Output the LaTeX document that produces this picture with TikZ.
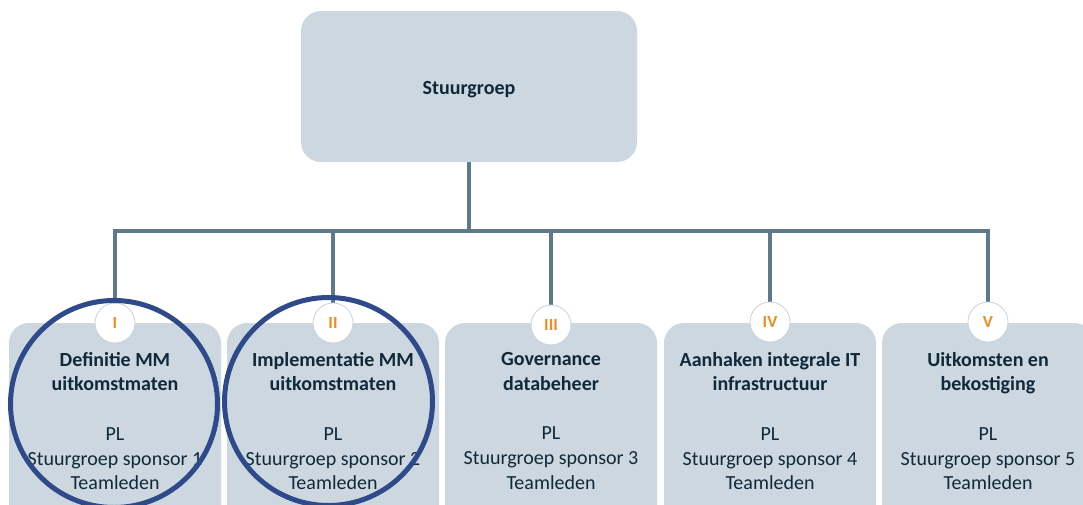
\documentclass[tikz,border=0pt]{standalone}
\usepackage{fontspec}
\setmainfont{Carlito}
\usetikzlibrary{backgrounds}
\definecolor{boxfill}{HTML}{CCD7DF}
\definecolor{connc}{HTML}{5D7A8C}
\definecolor{ringc}{HTML}{2E4A8B}
\definecolor{numorange}{HTML}{F28A1E}
\definecolor{numedge}{HTML}{C8D3DB}
\definecolor{txtc}{HTML}{10293A}
\tikzset{
  topbox/.style={fill=boxfill, rounded corners=20pt, minimum width=336pt, minimum height=151pt, inner sep=0pt},
  toptext/.style={inner sep=0pt, text=txtc, font=\fontsize{20}{24.7}\selectfont\bfseries},
  subbox/.style={fill=boxfill, rounded corners=20pt, minimum width=212pt, minimum height=210pt, inner sep=0pt},
  subtext/.style={align=center, text=txtc, inner sep=0pt, font=\fontsize{20}{24.7}\selectfont},
  numc/.style={circle, fill=white, draw=numedge, line width=0.8pt, minimum size=40pt, inner sep=0pt, text=numorange, font=\fontsize{17}{20}\selectfont\bfseries},
  conn/.style={draw=connc, line width=3.2pt},
  ring/.style={circle, draw=ringc, line width=5pt, inner sep=0pt}
}
\begin{document}
\begin{tikzpicture}[x=1pt,y=-1pt]
\useasboundingbox (0,0) rectangle (1083,504);
\clip (0,0) rectangle (1083,504);
% top box
\node[topbox] (top) at (469,86.5) {};
\node[toptext] (toplabel) at (469,89.5) {Stuurgroep};
% sub boxes
\node[subbox] (b1) at (115,428) {};
\node[subbox] (b2) at (333,428) {};
\node[subbox] (b3) at (551,428) {};
\node[subbox] (b4) at (770,428) {};
\node[subbox] (b5) at (988,428) {};
% number circles
\node[numc] (n1) at (115,323) {I};
\node[numc] (n2) at (333,323) {II};
\node[numc] (n3) at (551,325) {III};
\node[numc] (n4) at (770,322) {IV};
\node[numc] (n5) at (988,322) {V};
% connectors
\coordinate (bus) at (469,231);
\begin{scope}[on background layer]
\draw[conn] (top.south) -- (bus);
\draw[conn] (n1.north) |- (bus) -| (n5.north);
\draw[conn] (n2.north |- bus) -- (n2.north);
\draw[conn] (n3.north |- bus) -- (n3.north);
\draw[conn] (n4.north |- bus) -- (n4.north);
\end{scope}
% texts
\node[subtext] (t1) at (115,421) {\textbf{Definitie MM}\\\textbf{uitkomstmaten}\\[24.7pt]PL\\Stuurgroep sponsor 1\\Teamleden};
\node[subtext] (t2) at (333,421) {\textbf{Implementatie MM}\\\textbf{uitkomstmaten}\\[24.7pt]PL\\Stuurgroep sponsor 2\\Teamleden};
\node[subtext] (t3) at (551,421) {\textbf{Governance}\\\textbf{databeheer}\\[24.7pt]PL\\Stuurgroep sponsor 3\\Teamleden};
\node[subtext] (t4) at (770,421) {\textbf{Aanhaken integrale IT}\\\textbf{infrastructuur}\\[24.7pt]PL\\Stuurgroep sponsor 4\\Teamleden};
\node[subtext] (t5) at (988,421) {\textbf{Uitkomsten en}\\\textbf{bekostiging}\\[24.7pt]PL\\Stuurgroep sponsor 5\\Teamleden};
% rings
\node[ring, minimum size=207pt] (c1) at (114,404) {};
\node[ring, minimum size=208pt] (c2) at (328.5,401.5) {};
\end{tikzpicture}
\end{document}
